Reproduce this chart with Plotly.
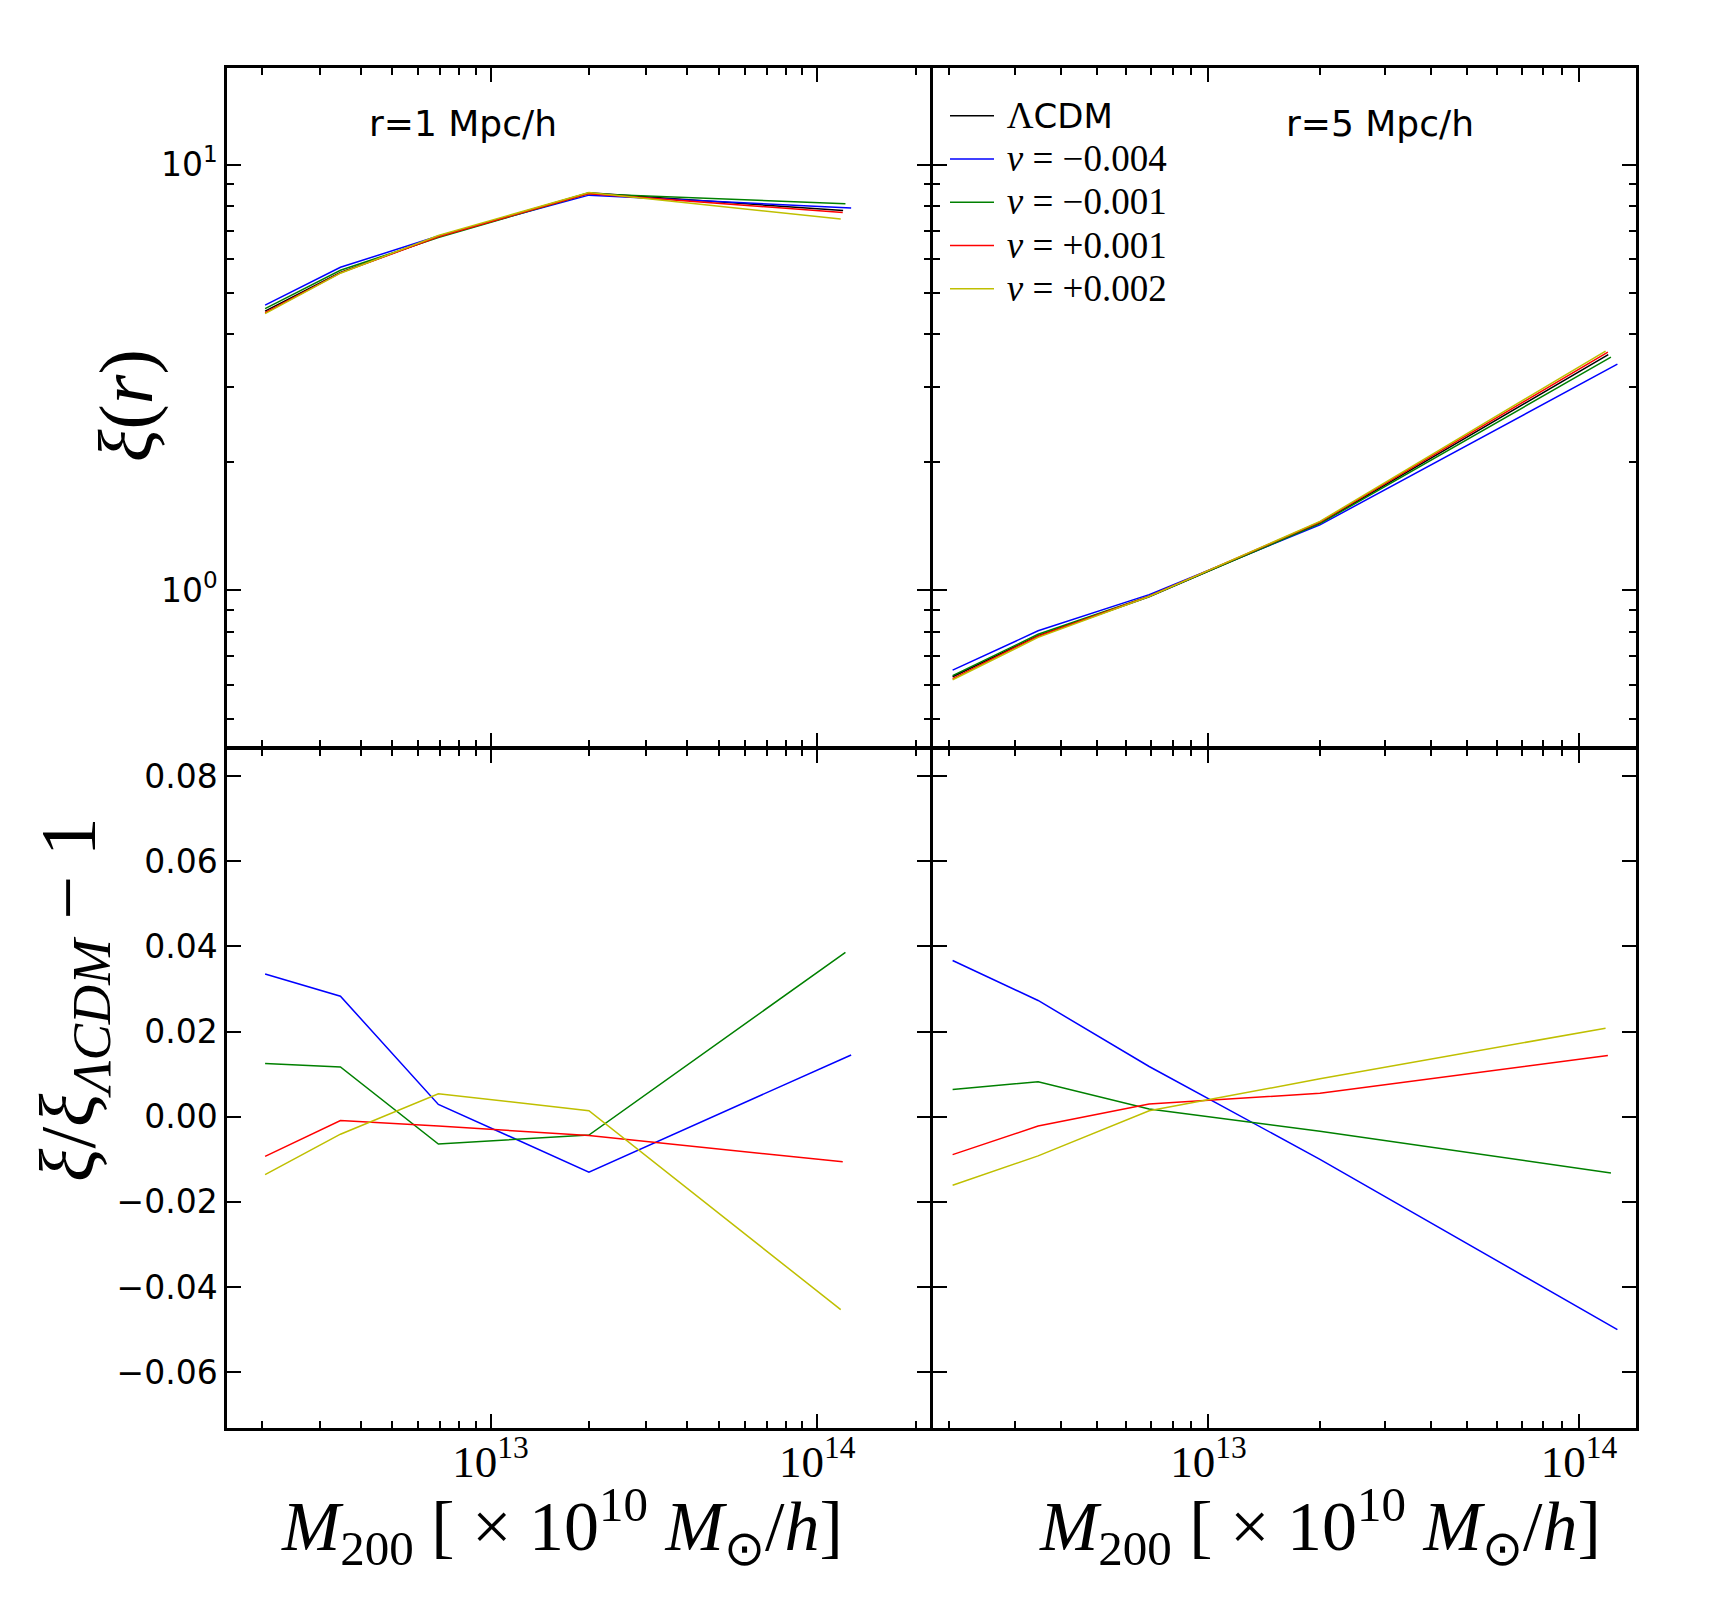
import plotly.graph_objects as go
from plotly.subplots import make_subplots

# ---------------- data ----------------
mass_common = [2.04e12, 3.47e12, 6.92e12, 2.0e13]
mass_last = {"lcdm": 1.20e14, "m004": 1.27e14, "m001": 1.22e14, "p001": 1.197e14, "p002": 1.18e14}

series_keys = ["lcdm", "m004", "m001", "p001", "p002"]
legend_text = {
    "lcdm": "ΛCDM",
    "m004": "ν = −0.004",
    "m001": "ν = −0.001",
    "p001": "ν = +0.001",
    "p002": "ν = +0.002",
}
colors = {"lcdm": "#000000", "m004": "#0000ff", "m001": "#008000", "p001": "#ff0000", "p002": "#bfbf00"}

# xi(r) at r = 1 Mpc/h
xi_r1 = {
    "lcdm": [4.53, 5.58, 6.78, 8.59, 7.80],
    "m004": [4.68, 5.74, 6.80, 8.48, 7.91],
    "m001": [4.59, 5.65, 6.74, 8.55, 8.10],
    "p001": [4.49, 5.57, 6.77, 8.55, 7.72],
    "p002": [4.47, 5.56, 6.82, 8.60, 7.45],
}
# xi(r) at r = 5 Mpc/h
xi_r5 = {
    "lcdm": [0.627, 0.783, 0.967, 1.440, 3.58],
    "m004": [0.650, 0.804, 0.978, 1.426, 3.40],
    "m001": [0.631, 0.789, 0.969, 1.435, 3.53],
    "p001": [0.621, 0.781, 0.970, 1.448, 3.63],
    "p002": [0.617, 0.776, 0.968, 1.453, 3.65],
}
# relative difference xi/xi_LCDM - 1
rel_r1 = {
    "m004": [0.0335, 0.0283, 0.0029, -0.0130, 0.0145],
    "m001": [0.0125, 0.0117, -0.0064, -0.0043, 0.0386],
    "p001": [-0.0093, -0.0009, -0.0022, -0.0044, -0.0106],
    "p002": [-0.0136, -0.0041, 0.0054, 0.0014, -0.0453],
}
rel_r5 = {
    "m004": [0.0367, 0.0273, 0.0118, -0.0100, -0.0500],
    "m001": [0.0064, 0.0082, 0.0018, -0.0034, -0.0132],
    "p001": [-0.0089, -0.0022, 0.0030, 0.0055, 0.0144],
    "p002": [-0.0161, -0.0092, 0.0014, 0.0089, 0.0208],
}
panel_labels = ["r=1 Mpc/h", "r=5 Mpc/h"]
bottom_yticks = [-0.06, -0.04, -0.02, 0.0, 0.02, 0.04, 0.06, 0.08]

# ---------------- figure ----------------
W, H = 1717, 1597
ML, MR, MT, MB = 227, 81, 68, 169
PW, PH = W - ML - MR, H - MT - MB
LW = 2.5


def px(x):
    return (x - ML) / PW


def py(y):
    return 1 - (y - MT) / PH


fig = make_subplots(rows=2, cols=2, horizontal_spacing=LW / PW, vertical_spacing=LW / PH)


def xs(key):
    return mass_common + [mass_last[key]]


def legend_label(key):
    gap = "&nbsp;"
    if key == "lcdm":
        return (gap + "<span style='font-size:37px'>Λ</span>"
                "<span style='font-family:DejaVu Sans;font-size:34px'>CDM</span>")
    t = legend_text[key]
    return gap + "<span style='font-size:37px'><i>ν</i>" + t[1:] + "</span>"


for col, data in ((1, xi_r1), (2, xi_r5)):
    for key in series_keys:
        fig.add_trace(go.Scatter(x=xs(key), y=data[key], mode="lines", name=legend_label(key),
                                 line=dict(color=colors[key], width=1.5),
                                 showlegend=(col == 2)),
                      row=1, col=col)

for col, data in ((1, rel_r1), (2, rel_r5)):
    for key in series_keys[1:]:
        fig.add_trace(go.Scatter(x=xs(key), y=data[key], mode="lines", name=legend_text[key],
                                 line=dict(color=colors[key], width=1.5), showlegend=False),
                      row=2, col=col)

minor_x = [m * 10 ** e for e in (12, 13, 14) for m in range(2, 10)]
minor_y = [m * 10 ** e for e in (-1, 0, 1) for m in range(2, 10)]

axis_common = dict(showline=True, linewidth=LW, linecolor="black", mirror="allticks",
                   ticks="inside", ticklen=14, tickwidth=2, tickcolor="black",
                   showgrid=False, zeroline=False)
minor_common = dict(tickmode="array", ticks="inside", ticklen=7, tickwidth=1.5,
                    tickcolor="black", showgrid=False)

x_ranges = {1: [12.193, 14.346], 2: [12.256, 14.154]}
for row in (1, 2):
    for col in (1, 2):
        fig.update_xaxes(type="log", range=x_ranges[col],
                         tickmode="array", tickvals=[1e13, 1e14],
                         ticktext=["10<sup>13</sup>", "10<sup>14</sup>"],
                         showticklabels=(row == 2), ticklabelstandoff=-8,
                         tickfont=dict(family="Liberation Serif", size=45, color="black"),
                         minor=dict(tickvals=minor_x, **minor_common),
                         row=row, col=col, **axis_common)

fig.update_yaxes(type="log", range=[-0.367, 1.227], tickmode="array", tickvals=[1, 10],
                 ticktext=["10<sup>0</sup>", "10<sup>1</sup>"],
                 showticklabels=True,
                 tickfont=dict(family="DejaVu Sans", size=33, color="black"),
                 minor=dict(tickvals=minor_y, **minor_common),
                 row=1, col=1, **axis_common)
fig.update_yaxes(type="log", range=[-0.367, 1.227], tickmode="array", tickvals=[1, 10],
                 showticklabels=False,
                 minor=dict(tickvals=minor_y, **minor_common),
                 row=1, col=2, **axis_common)
for col in (1, 2):
    fig.update_yaxes(range=[-0.0731, 0.0863], tickmode="array", tickvals=bottom_yticks,
                     tickformat=".2f", showticklabels=(col == 1),
                     tickfont=dict(family="DejaVu Sans", size=33, color="black"),
                     row=2, col=col, **axis_common)

ann_font = dict(family="DejaVu Sans", size=36, color="black")
annotations = [
    dict(text=panel_labels[0], x=px(463), y=py(124), xref="paper", yref="paper",
         showarrow=False, font=ann_font, xanchor="center", yanchor="middle"),
    dict(text=panel_labels[1], x=px(1380), y=py(124), xref="paper", yref="paper",
         showarrow=False, font=ann_font, xanchor="center", yanchor="middle"),
]
title_font = dict(family="Liberation Serif", size=70, color="black")
xtitle = "<i>M</i><sub>200</sub> [ × 10<sup>10</sup> <i>M</i><sub>⊙</sub>/<i>h</i>]"
annotations += [
    dict(text=xtitle, x=px(562), y=py(1526), xref="paper", yref="paper", showarrow=False,
         font=title_font, xanchor="center", yanchor="middle"),
    dict(text=xtitle, x=px(1320), y=py(1526), xref="paper", yref="paper", showarrow=False,
         font=title_font, xanchor="center", yanchor="middle"),
    dict(text="<i>ξ</i>(<i>r</i>)", x=px(126), y=py(406), xref="paper", yref="paper",
         showarrow=False, font=dict(family="Liberation Serif", size=76, color="black"),
         textangle=-90, xanchor="center", yanchor="middle"),
    dict(text="<i>ξ</i>/<i>ξ</i><sub><i>ΛCDM</i></sub> − 1", x=px(73), y=py(1000),
         xref="paper", yref="paper", showarrow=False,
         font=dict(family="Liberation Serif", size=78, color="black"),
         textangle=-90, xanchor="center", yanchor="middle"),
]

fig.update_layout(
    width=W, height=H,
    margin=dict(l=ML, r=MR, t=MT, b=MB),
    paper_bgcolor="white", plot_bgcolor="white",
    annotations=annotations,
    legend=dict(x=px(945), y=py(89), xanchor="left", yanchor="top",
                bgcolor="rgba(0,0,0,0)", borderwidth=0,
                font=dict(family="Liberation Serif", size=31, color="black"),
                itemwidth=44, tracegroupgap=0),
)

fig.write_html("out.html")
